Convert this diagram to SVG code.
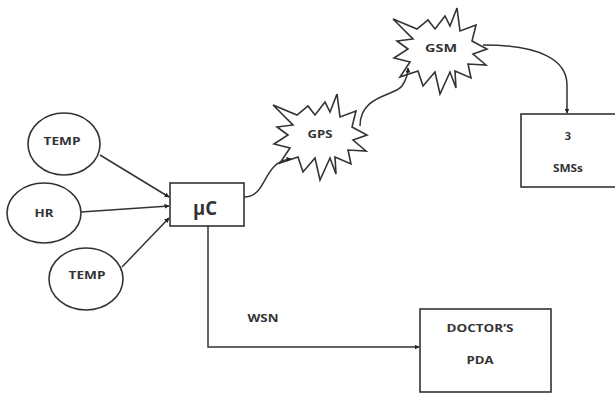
<svg xmlns="http://www.w3.org/2000/svg" width="615" height="394" viewBox="0 0 615 394">
<style>
.shape{fill:#fff;stroke:#333;stroke-width:1.6}
.line{fill:none;stroke:#333;stroke-width:1.5}
.t{font-family:"Open Sans","Liberation Sans",sans-serif;font-weight:bold;font-size:11px;fill:#333;text-anchor:middle;dominant-baseline:central}
</style>
<defs>
<marker id="arr" viewBox="0 0 10 10" refX="9" refY="5" markerWidth="5" markerHeight="5" orient="auto" markerUnits="userSpaceOnUse">
<path d="M0,0 L10,5 L0,10 z" fill="#222"/>
</marker>
<polygon id="star" points="273,105 297,115 308,106 315,115 325,102 330,112 337,94 340,117 356,111 352,127 367,135 353,140 366,151 348,150 351,164 335,157 336,174 330,158 320,180 315,158 303,172 298,157 280,163 290,148 274,144 288,135 277,127 293,125"/>
</defs>
<rect width="615" height="394" fill="#fff"/>
<g id="temp1"><ellipse class="shape" cx="64" cy="144" rx="36" ry="31"/><text class="t" x="62" y="140" textLength="37" lengthAdjust="spacingAndGlyphs">TEMP</text></g>
<g id="hr"><ellipse class="shape" cx="44" cy="213" rx="37" ry="30"/><text class="t" x="44" y="212" textLength="19" lengthAdjust="spacingAndGlyphs">HR</text></g>
<g id="temp2"><ellipse class="shape" cx="86" cy="279" rx="37" ry="31"/><text class="t" x="87" y="274" textLength="37" lengthAdjust="spacingAndGlyphs">TEMP</text></g>
<g id="uc"><rect class="shape" x="170" y="183" width="74" height="43"/><text class="t" x="205" y="207" style="font-size:20px" textLength="24" lengthAdjust="spacingAndGlyphs">μC</text></g>
<g id="gps"><use href="#star" class="shape"/><text class="t" x="320" y="133" textLength="25" lengthAdjust="spacingAndGlyphs">GPS</text></g>
<g id="gsm"><use href="#star" class="shape" transform="translate(120,-86)"/><text class="t" x="441" y="47" textLength="32" lengthAdjust="spacingAndGlyphs">GSM</text></g>
<g id="sms"><rect class="shape" x="521" y="114" width="100" height="73"/><text class="t" x="568" y="135">3</text><text class="t" x="568" y="167" textLength="30" lengthAdjust="spacingAndGlyphs">SMSs</text></g>
<g id="pda"><rect class="shape" x="420" y="309" width="131" height="83"/><text class="t" x="480" y="327" textLength="67" lengthAdjust="spacingAndGlyphs">DOCTOR’S</text><text class="t" x="480" y="359" textLength="27" lengthAdjust="spacingAndGlyphs">PDA</text></g>
<text class="t" x="263" y="317" textLength="31" lengthAdjust="spacingAndGlyphs">WSN</text>
<g id="connectors">
<line class="line" x1="100" y1="155" x2="169" y2="197" marker-end="url(#arr)"/>
<line class="line" x1="81" y1="212" x2="169" y2="206" marker-end="url(#arr)"/>
<line class="line" x1="122" y1="267" x2="169" y2="218" marker-end="url(#arr)"/>
<path class="line" d="M244,197 C268,197 262,161 291,159" marker-end="url(#arr)"/>
<path class="line" d="M360,126 C360,95 395,96 402,86 C406,80 408,75 408,68" marker-end="url(#arr)"/>
<path class="line" d="M483,45 C540,45 567,60 567,85 L567,113" marker-end="url(#arr)"/>
<path class="line" d="M208,226 L208,347 L419,347" marker-end="url(#arr)"/>
</g>
</svg>
